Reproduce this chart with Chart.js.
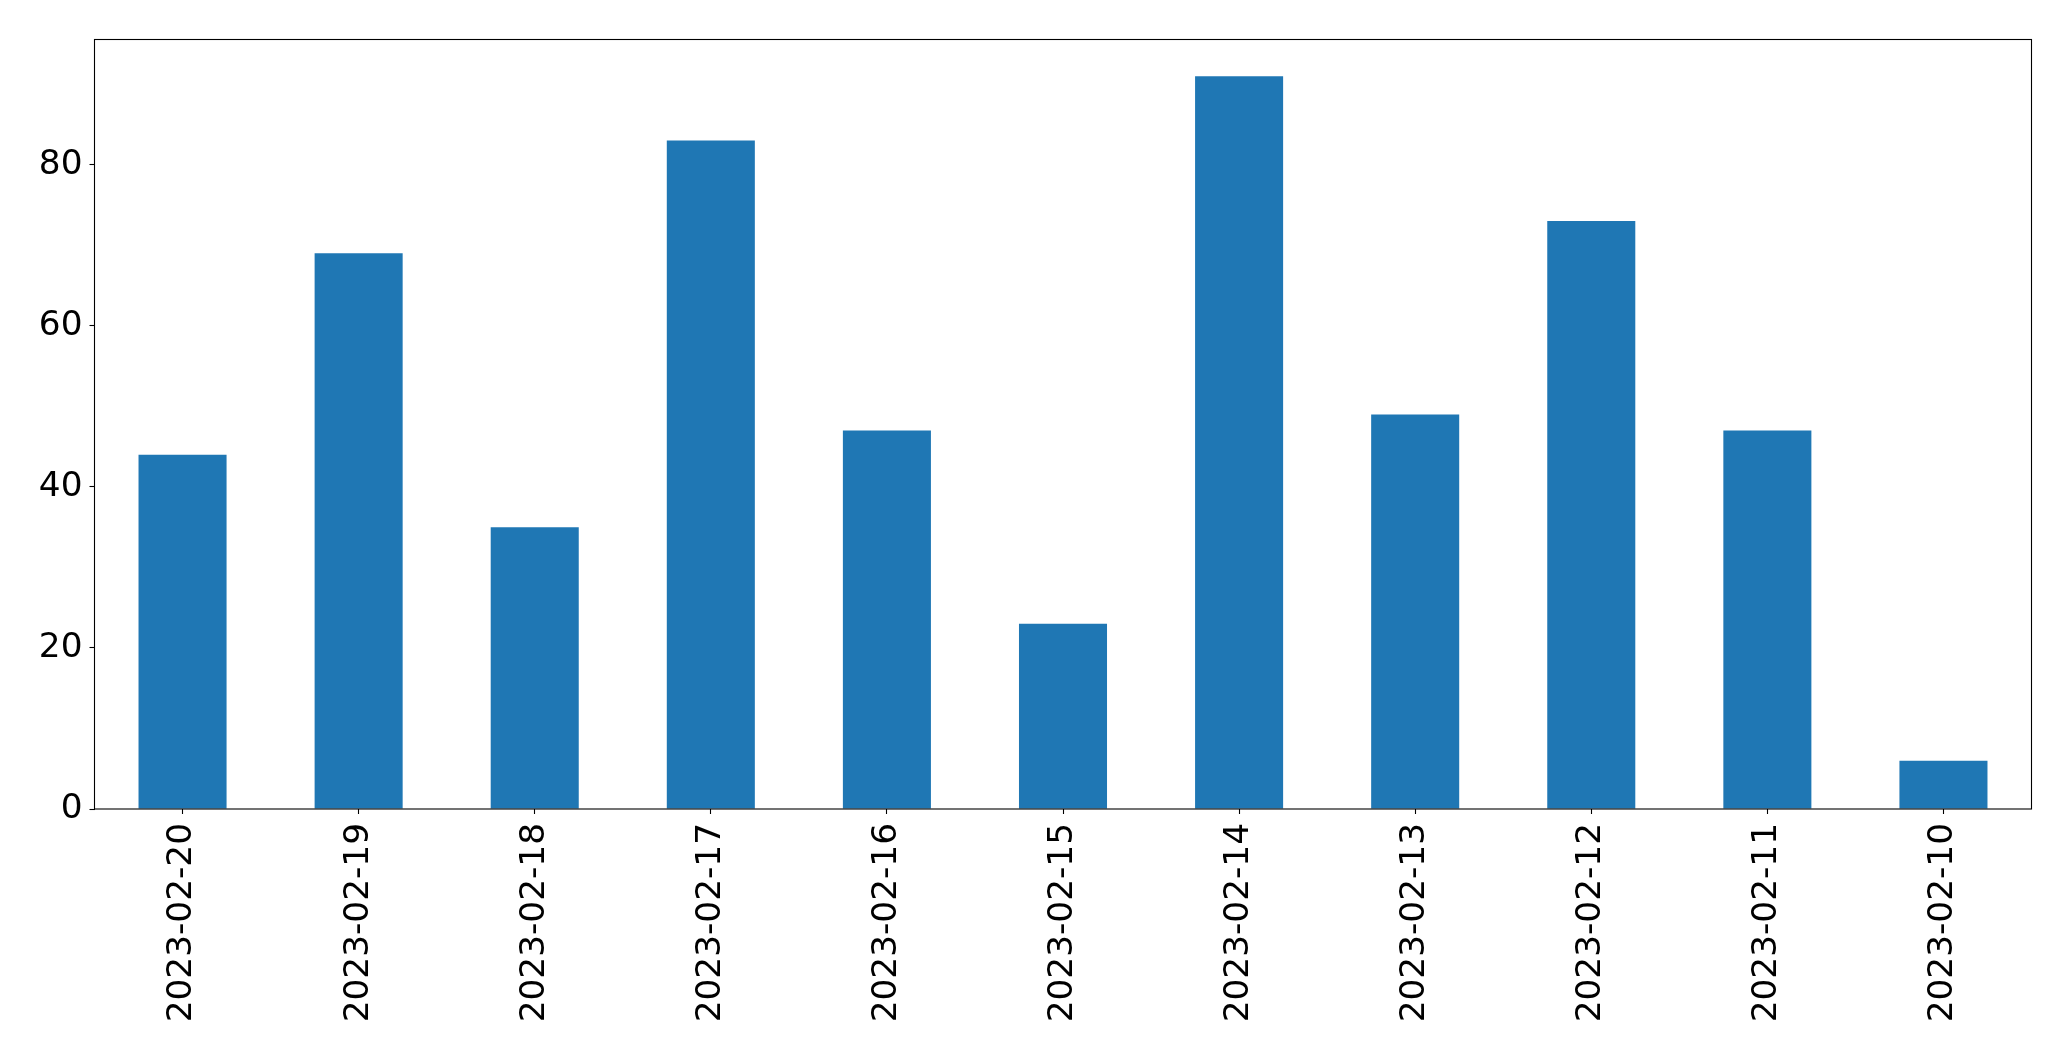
<!DOCTYPE html>
<html>
<head>
<meta charset="utf-8">
<script src="https://cdn.jsdelivr.net/npm/chart.js@4"></script>
<style>
  html, body { margin: 0; padding: 0; background: #ffffff; }
  #wrap { width: 2071px; height: 1061px; }
</style>
</head>
<body>
<div id="wrap"><canvas id="c" width="2071" height="1061"></canvas></div>
<script>
const categories = ["2023-02-20","2023-02-19","2023-02-18","2023-02-17","2023-02-16","2023-02-15","2023-02-14","2023-02-13","2023-02-12","2023-02-11","2023-02-10"];
const values = [44, 69, 35, 83, 47, 23, 91, 49, 73, 47, 6];
const yTicks = [0, 20, 40, 60, 80];
const yMax = 95.55;

const FONT = "'DejaVu Sans', sans-serif";

const framePlugin = {
  id: 'frame',
  afterDraw(chart) {
    const a = chart.chartArea;
    const ctx = chart.ctx;
    ctx.save();
    ctx.strokeStyle = '#000';
    ctx.lineWidth = 1.1;
    ctx.strokeRect(a.left, a.top, a.right - a.left, a.bottom - a.top);
    ctx.restore();
  }
};

new Chart(document.getElementById('c'), {
  type: 'bar',
  data: {
    labels: categories,
    datasets: [{
      data: values,
      backgroundColor: '#1f77b4',
      borderWidth: 0,
      barPercentage: 0.5,
      categoryPercentage: 1.0
    }]
  },
  options: {
    responsive: false,
    devicePixelRatio: 1,
    animation: false,
    layout: { padding: { top: 39.5, right: 39.5, left: 0, bottom: 0 } },
    plugins: { legend: { display: false }, tooltip: { enabled: false } },
    scales: {
      x: {
        afterFit(scale) { scale.height = 1061 - 809; },
        grid: { display: true, drawOnChartArea: false, drawTicks: true, tickLength: 5, tickWidth: 1.1, color: '#000', offset: false },
        border: { display: false },
        ticks: {
          color: '#000',
          font: { family: FONT, size: 34.3 },
          minRotation: 90,
          maxRotation: 90,
          padding: 9,
          autoSkip: false
        }
      },
      y: {
        min: 0,
        max: yMax,
        afterFit(scale) { scale.width = 94.5; },
        afterBuildTicks(scale) { scale.ticks = yTicks.map(v => ({ value: v })); },
        grid: { display: true, drawOnChartArea: false, drawTicks: true, tickLength: 5, tickWidth: 1.1, color: '#000' },
        border: { display: false },
        ticks: {
          color: '#000',
          font: { family: FONT, size: 34.3 },
          padding: 7
        }
      }
    }
  },
  plugins: [framePlugin]
});
</script>
</body>
</html>
